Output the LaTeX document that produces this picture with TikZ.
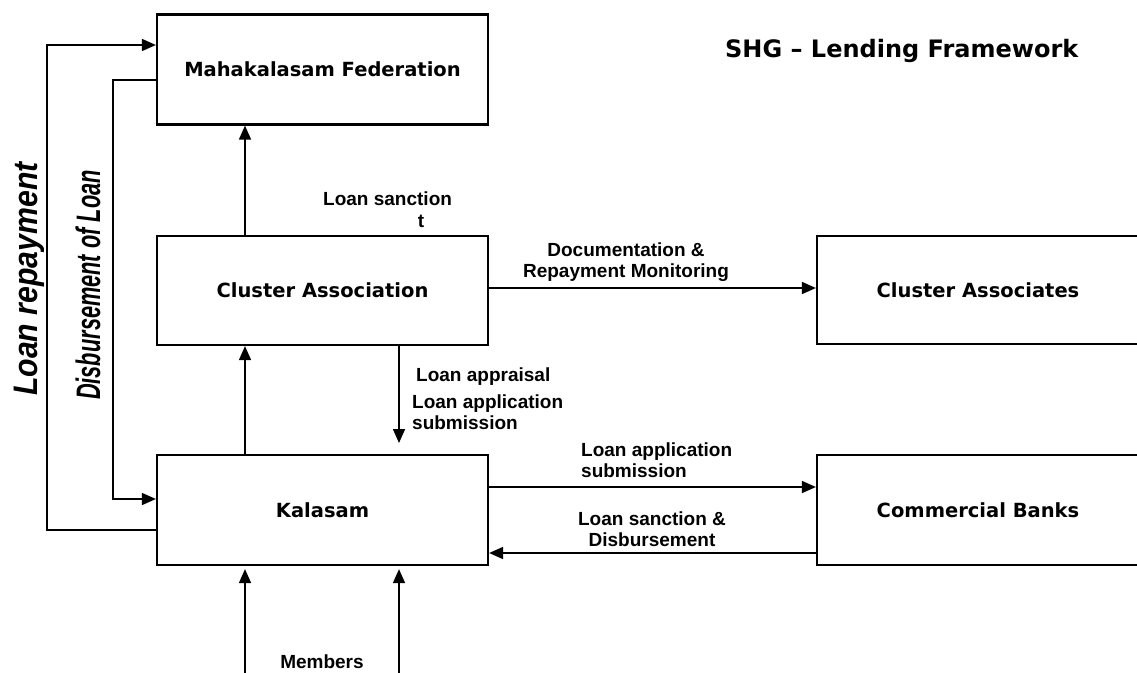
\documentclass[tikz,border=0pt]{standalone}
\usepackage{fontspec}
\setmainfont{DejaVu Sans}
\newfontfamily\arialfont{Liberation Sans}
\usetikzlibrary{arrows.meta, positioning, calc}

\begin{document}
\begin{tikzpicture}[x=1pt, y=-1pt,
      unit/.style={rectangle, draw, line width=2.2pt, minimum width=331pt, minimum height=110pt, font=\fontsize{19.5}{23}\selectfont\bfseries},
      lbl/.style={font=\arialfont\fontsize{19}{20.5}\selectfont\bfseries, inner sep=0pt},
      side/.style={rotate=90, anchor=base, inner sep=0pt, font=\arialfont\fontsize{34}{36}\selectfont\bfseries\itshape},
      arrow/.style={-{Triangle[length=14pt, width=12pt]}, line width=1.6pt}
    ]
    \useasboundingbox (0,0) rectangle (1137,672);

    % Units
    \node[unit] (fed) at (322.5,69.5) {Mahakalasam Federation};
    \node[unit, minimum height=109pt] (clas) at (322.5,290.5) {Cluster Association};
    \node[unit] (kal) at (322.5,510) {Kalasam};
    \node[unit, minimum width=322pt, minimum height=108pt] (cass) at (978,290) {Cluster Associates};
    \node[unit, minimum width=322pt] (bank) at (978,510) {Commercial Banks};

    % Title
    \node[anchor=base west, inner sep=0pt, font=\fontsize{24}{28}\selectfont\bfseries] (title) at (725,57) {SHG -- Lending Framework};

    % Helper points
    \coordinate (lx) at (245,0);
    \coordinate (aptip) at (399,443);
    \coordinate (doc) at (0,288);
    \coordinate (apl) at (0,487);
    \coordinate (snc) at (0,553);
    \coordinate (rpb) at (47,530);
    \coordinate (rpt) at (47,45);
    \coordinate (dbt) at (113,80);
    \coordinate (dbb) at (113,499);
    \coordinate (m1) at (245,676);
    \coordinate (m2) at (399,676);

    % Arrows between units
    \draw[arrow] (clas.north -| lx) -- (fed.south -| lx);
    \draw[arrow] (kal.north -| lx) -- (clas.south -| lx);
    \draw[arrow] (clas.south -| aptip) -- (aptip);
    \draw[arrow] (clas.east |- doc) -- (cass.west |- doc);
    \draw[arrow] (kal.east |- apl) -- (bank.west |- apl);
    \draw[arrow] (bank.west |- snc) -- (kal.east |- snc);

    % Loops on the left
    \draw[arrow] (kal.west |- rpb) -- (rpb) -- (rpt) -- (fed.west |- rpt);
    \draw[arrow] (fed.west |- dbt) -- (dbt) -- (dbb) -- (kal.west |- dbb);

    % Members
    \draw[arrow, shorten >=3pt] (m1) -- (kal.south -| m1);
    \draw[arrow, shorten >=3pt] (m2) -- (kal.south -| m2);

    % Labels
    \node[lbl, anchor=base west] (lsanc) at (323,205) {Loan sanction};
    \node[lbl, anchor=base] (lsanct) at (421,227) {t};
    \node[lbl, align=center, anchor=north] (ldoc) at (626,243) {Documentation \&\\Repayment Monitoring};
    \node[lbl, anchor=base west] (lapr) at (416,381) {Loan appraisal};
    \node[lbl, align=left, anchor=north west] (lapp) at (412,395) {Loan application\\submission};
    \node[lbl, align=left, anchor=north west] (lbapp) at (581,443) {Loan application\\submission};
    \node[lbl, align=center, anchor=north] (lbsanc) at (652,512) {Loan sanction \&\\Disbursement};
    \node[lbl, anchor=base] (memb) at (322,668) {Members};
    \node[side] (lrep) at (37,279) {\scalebox{0.89}[1]{Loan repayment}};
    \node[side] (ldisb) at (100,285) {\scalebox{0.64}[1]{Disbursement of Loan}};
  \end{tikzpicture}
\end{document}
